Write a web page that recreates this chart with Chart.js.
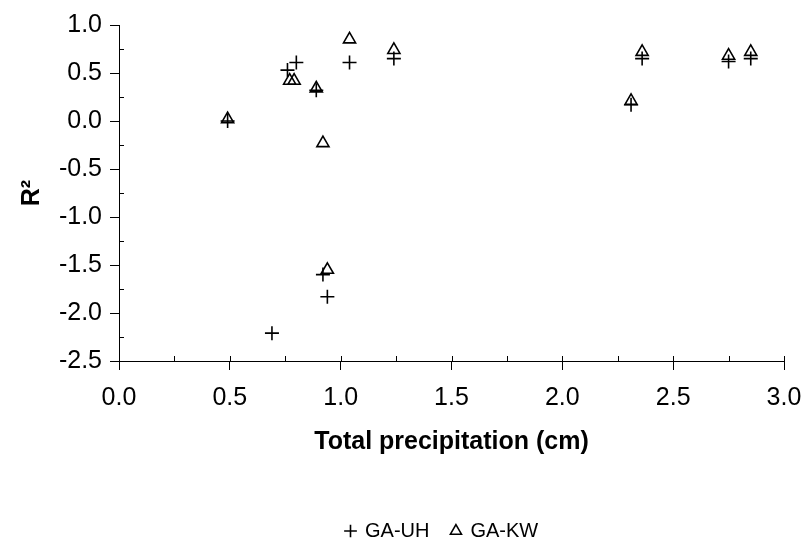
<!DOCTYPE html>
<html>
<head>
<meta charset="utf-8">
<script src="https://cdn.jsdelivr.net/npm/chart.js@4.4.0/dist/chart.umd.min.js"></script>
<style>
  html, body { margin: 0; padding: 0; background: #ffffff; }
  #wrap { width: 807px; height: 544px; }
</style>
</head>
<body>
<div id="wrap"><canvas id="c" width="807" height="544"></canvas></div>
<script>
// ---- data ----
const seriesNames = ["GA-UH", "GA-KW"];
const uhPrecip = [0.49, 0.69, 0.76, 0.80, 0.89, 0.92, 0.94, 1.04, 1.24, 2.31, 2.36, 2.75, 2.85];
const uhR2     = [0.00, -2.21, 0.53, 0.61, 0.32, -1.60, -1.83, 0.61, 0.65, 0.17, 0.65, 0.62, 0.65];
const kwPrecip = [0.49, 0.77, 0.79, 0.89, 0.92, 0.94, 1.04, 1.24, 2.31, 2.36, 2.75, 2.85];
const kwR2     = [0.02, 0.42, 0.42, 0.34, -0.23, -1.55, 0.85, 0.74, 0.21, 0.72, 0.68, 0.72];
const xTicks = [0.0, 0.5, 1.0, 1.5, 2.0, 2.5, 3.0];
const yTicks = [-2.5, -2.0, -1.5, -1.0, -0.5, 0.0, 0.5, 1.0];
const xTitle = "Total precipitation (cm)";
const yTitle = "R\u00B2";

const pts = (xs, ys) => xs.map((x, i) => ({ x: x, y: ys[i] }));

// minor ticks + upward part of x major ticks
const minorTicks = {
  id: 'minorTicks',
  afterDraw(chart) {
    const ctx = chart.ctx;
    const xs = chart.scales.x, ys = chart.scales.y;
    const left = chart.chartArea.left, bottom = chart.chartArea.bottom;
    ctx.save();
    ctx.strokeStyle = '#000';
    ctx.lineWidth = 1;
    ctx.beginPath();
    for (let i = 0; i < xTicks.length; i++) {
      const px = Math.round(xs.getPixelForValue(xTicks[i])) + 0.5;
      ctx.moveTo(px, bottom); ctx.lineTo(px, bottom - 5);
      if (i < xTicks.length - 1) {
        const pm = Math.round(xs.getPixelForValue((xTicks[i] + xTicks[i + 1]) / 2)) + 0.5;
        ctx.moveTo(pm, bottom); ctx.lineTo(pm, bottom - 5);
      }
    }
    for (let i = 0; i < yTicks.length - 1; i++) {
      const py = Math.round(ys.getPixelForValue((yTicks[i] + yTicks[i + 1]) / 2)) + 0.5;
      ctx.moveTo(left, py); ctx.lineTo(left + 5, py);
    }
    ctx.stroke();
    ctx.restore();
  }
};

// place the legend row like the reference
const legendPlace = {
  id: 'legendPlace',
  afterLayout(chart) {
    const lg = chart.legend;
    if (!lg || !lg.lineWidths) return;
    const pad = lg.options.labels.padding;
    const startX = (lg.left + pad + lg.right - lg.lineWidths[0]) / 2;
    const dx = 346 - startX;
    lg.left += dx; lg.right += dx;
    const fs = lg.options.labels.font.size;
    const textCenter = lg.top + pad + fs / 2;
    const dy = 531 - textCenter;
    lg.top += dy; lg.bottom += dy;
  }
};

Chart.defaults.font.family = "'Liberation Sans', Arial, sans-serif";
Chart.defaults.color = '#000';

new Chart(document.getElementById('c'), {
  type: 'scatter',
  data: {
    datasets: [
      {
        label: seriesNames[0],
        data: pts(uhPrecip, uhR2),
        pointStyle: 'cross',
        pointRadius: 7,
        pointHoverRadius: 7,
        borderColor: '#000',
        backgroundColor: '#000',
        borderWidth: 1.6
      },
      {
        label: seriesNames[1],
        data: pts(kwPrecip, kwR2),
        pointStyle: 'triangle',
        pointRadius: 7,
        pointHoverRadius: 7,
        borderColor: '#000',
        backgroundColor: 'rgba(0,0,0,0)',
        borderWidth: 1.6
      }
    ]
  },
  options: {
    responsive: false,
    animation: false,
    layout: { padding: { left: 0, right: 23, top: 25, bottom: 0 } },
    plugins: {
      tooltip: { enabled: false },
      legend: {
        position: 'bottom',
        labels: {
          usePointStyle: true,
          boxWidth: 9,
          boxHeight: 9,
          padding: 22,
          font: { size: 20 },
          color: '#000'
        }
      }
    },
    scales: {
      x: {
        type: 'linear',
        min: 0, max: 3,
        afterBuildTicks: (s) => { s.ticks = xTicks.map(v => ({ value: v })); },
        afterFit: (s) => { s.height = 131; s.paddingLeft = 0; s.paddingRight = 0; },
        ticks: {
          font: { size: 25 },
          padding: 13,
          callback: (v) => Number(v).toFixed(1)
        },
        grid: { drawOnChartArea: false, drawTicks: true, tickLength: 9, color: '#000', lineWidth: 1 },
        border: { display: true, color: '#000', width: 1 },
        title: { display: true, text: xTitle, font: { size: 25, weight: 'bold' }, padding: { top: 0, bottom: 35 } }
      },
      y: {
        type: 'linear',
        min: -2.5, max: 1,
        afterBuildTicks: (s) => { s.ticks = yTicks.map(v => ({ value: v })); },
        afterFit: (s) => { s.width = 119; s.paddingTop = 0; s.paddingBottom = 0; },
        ticks: {
          font: { size: 25 },
          padding: 8,
          callback: (v) => Number(v).toFixed(1)
        },
        grid: { drawOnChartArea: false, drawTicks: true, tickLength: 9, color: '#000', lineWidth: 1 },
        border: { display: true, color: '#000', width: 1 },
        title: { display: true, text: yTitle, font: { size: 25, weight: 'bold' }, padding: { top: 17, bottom: 0 } }
      }
    }
  },
  plugins: [minorTicks, legendPlace]
});
</script>
</body>
</html>
